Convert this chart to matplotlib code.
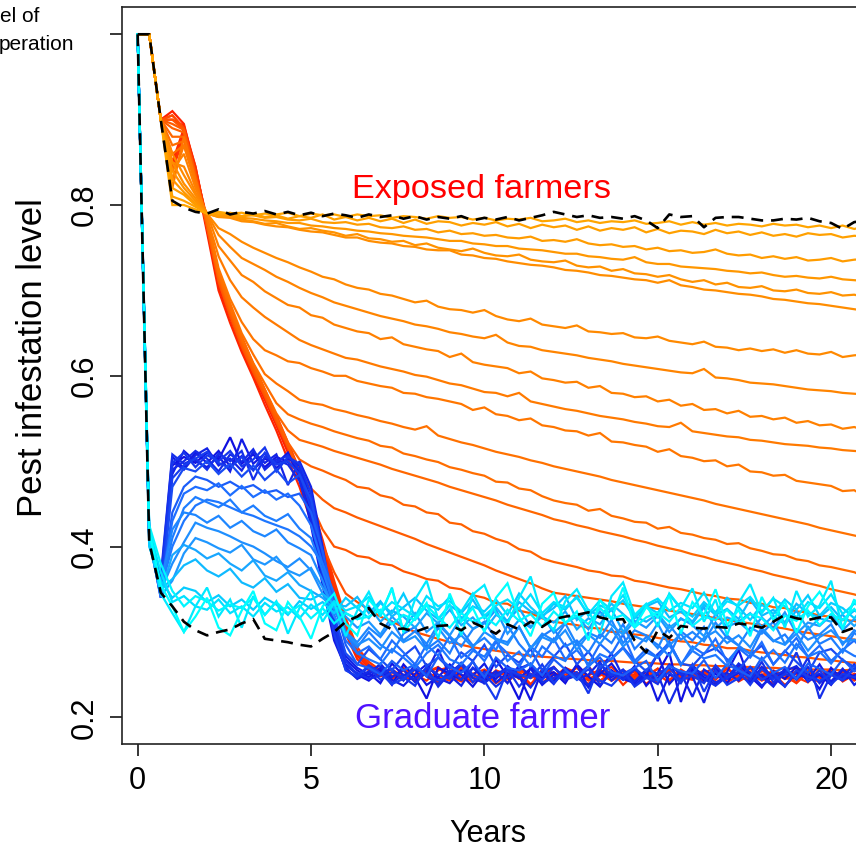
import numpy as np
import matplotlib
matplotlib.use("Agg")
import matplotlib.pyplot as plt
from matplotlib.colors import LinearSegmentedColormap

plt.rcParams['font.family'] = ['Liberation Sans', 'DejaVu Sans']

# one sample every 4 months
years = np.arange(72) / 3

# pest infestation level x 1000, one row per simulation
exposed_red = [
    [1000,1000,900, 910,895,840, 772,705,668, 632,602,572, 542,510,478, 440,395,345, 305,272,258, 250,246,255, 243,252,258, 247,250,241, 254,248,256, 245,251,247, 259,244,252, 249,256,243, 250,247,253, 242,255,249, 246,252,244, 257,248,251, 243,250,246, 254,249,241, 252,247,255, 250],
    [1000,1000,900, 905,890,835, 768,700,662, 628,598,566, 536,502,470, 430,385,338, 298,268,255, 248,253,244, 257,249,240, 252,258,246, 241,255,250, 247,238,256, 252,245,249, 260,243,251, 246,254,239, 250,257,247, 244,252,258, 241,249,253, 246,240,255, 251,245,248, 257,242,250, 246],
    [1000,1000,900, 900,893,845, 778,712,672, 636,606,575, 545,514,482, 445,402,352, 310,276,260, 252,244,258, 249,255,242, 250,261,246, 253,240,249, 257,246,251, 243,255,248, 239,252,259, 247,244,254, 250,241,256, 248,253,245, 259,242,250, 246,255,249, 240,253,247, 256,244,251, 248],
    [1000,1000,900, 850,890,845, 780,715,675, 640,608,578, 548,516,484, 446,400,350, 308,275,259, 251,256,247, 244,253,259, 248,242,251, 256,249,245, 253,239,250, 246,258,252, 243,249,255, 238,251,246, 257,244,253, 249,241,256, 250,247,243, 254,251,238, 248,255,246, 242,253,249, 252],
    [1000,1000,900, 845,885,842, 782,718,678, 643,611,581, 551,519,486, 449,405,356, 312,278,262, 253,247,257, 250,243,255, 259,246,251, 242,254,248, 256,250,240, 252,247,259, 245,251,243, 255,248,253, 240,257,246, 251,244,254, 248,259,242, 250,253,245, 247,241,256, 249,254,243, 251],
    [1000,1000,900, 840,880,840, 785,722,682, 646,614,584, 554,522,490, 452,408,360, 316,282,265, 255,249,244, 256,251,247, 243,258,250, 246,252,241, 255,248,253, 244,250,258, 247,242,254, 251,246,249, 257,243,252, 248,255,240, 250,246,257, 244,252,249, 241,255,247, 253,248,245, 250],
]

# ordered from the flattest (top) to the steepest
exposed_fan = [
    [1000,1000,900, 800,800,795, 790,792,790, 791,788,790, 789,791,787, 790,788,789, 786,789,787, 788,785,787, 786,784,787, 785,786,783, 785,782,784, 783,785,781, 782,784,780, 782,779,781, 780,782,778, 779,781,777, 780,777,779, 776,778,777, 775,778,776, 777,774,776, 773,776,772, 775],
    [1000,1000,900, 810,805,798, 790,789,791, 787,790,786, 788,784,787, 785,789,783, 786,782,785, 781,784,779, 783,778,781, 780,776,779, 777,780,775, 778,773,777, 774,776,771, 775,770,773, 771,774,768, 772,767,770, 769,766,771, 767,769,765, 768,764,766, 763,767,765, 766,762,764, 763],
    [1000,1000,900, 820,812,800, 790,789,790, 787,788,785, 786,783,782, 784,780,779, 780,777,778, 774,773,775, 771,772,768, 770,766,767, 764,765,762, 761,763,758, 759,757,760, 755,753,754, 751,752,748, 750,746,747, 744,745,748, 743,741,742, 738,740,737, 739,735,736, 738,734,736, 737],
    [1000,1000,900, 830,815,802, 790,787,788, 785,784,782, 781,779,779, 776,775,773, 772,770,769, 767,766,764, 763,762,760, 758,758,755, 754,752,752, 749,748,747, 745,743,743, 740,739,737, 736,739,733, 731,731,728, 727,726,725, 723,722,720, 721,718,716, 717,715,714, 716,713,712, 711],
    [1000,1000,900, 840,820,805, 790,786,787, 783,781,778, 779,775,772, 773,770,768, 764,766,761, 760,757,758, 753,755,750, 748,746,749, 744,741,740, 742,736,734, 733,735,729, 727,728,723, 725,720,719, 716,718,713, 710,712,707, 709,704,703, 705,700,699, 701,697,696, 698,694,695, 692],
    [1000,1000,900, 850,825,808, 790,786,785, 781,780,777, 775,774,771, 769,768,765, 762,762,758, 756,755,752, 751,748,747, 747,742,741, 738,737,734, 732,730,729, 727,724,723, 721,718,717, 715,713,712, 709,712,706, 704,701,700, 698,696,695, 693,690,689, 687,685,684, 682,680,678, 676],
    [1000,1000,900, 860,835,812, 790,773,766, 757,750,744, 738,733,727, 722,716,713, 707,703,701, 696,694,690, 686,688,681, 678,677,674, 677,670,666, 664,667,660, 658,656,659, 652,651,649, 650,645,644, 646,641,639, 637,640,634, 633,630,632, 629,631,627, 630,626,625, 628,622,624, 625],
    [1000,1000,900, 850,845,815, 790,765,751, 738,731,724, 716,710,703, 697,692,686, 682,678,674, 670,667,664, 660,658,655, 651,649,646, 644,648,639, 635,634,630, 628,626,624, 621,619,617, 614,612,610, 608,606,604, 603,608,598, 597,595,592, 591,590,588, 586,584,583, 582,580,579, 578],
    [1000,1000,900, 840,860,820, 790,752,735, 718,710,699, 691,683,680, 671,668,660, 656,652,650, 643,645,637, 634,631,629, 622,626,616, 613,611,609, 603,605,597, 595,592,593, 586,588,580, 579,575,576, 570,572,565, 567,560,561, 556,559,552, 553,549,551, 545,547,542, 543,538,540, 536],
    [1000,1000,900, 830,870,825, 785,740,712, 692,680,669, 660,651,642, 636,631,626, 621,619,615, 611,608,605, 601,599,595, 591,589,585, 581,580,576, 580,570,567, 564,561,559, 556,553,551, 549,546,544, 541,540,545, 535,533,531, 529,528,525, 524,522,520, 519,518,516, 515,513,512, 511],
    [1000,1000,900, 820,880,830, 785,726,690, 663,643,630, 624,617,615, 609,605,600, 600,594,591, 588,586,580, 579,575,573, 570,567,560, 563,555,553, 548,550,542, 540,536,535, 530,533,523, 522,519,517, 511,514,506, 504,500,501, 494,496,488, 487,483,484, 477,475,473, 471,465,466, 458],
    [1000,1000,900, 860,870,828, 783,722,685, 650,625,602, 591,582,572, 568,566,561, 558,554,551, 547,544,540, 537,541,530, 526,522,519, 515,511,508, 505,501,498, 494,491,488, 485,482,478, 475,472,469, 466,463,460, 457,454,450, 447,444,441, 438,435,432, 429,426,422, 419,416,413, 410],
    [1000,1000,900, 870,875,826, 780,720,680, 645,615,591, 568,555,549, 544,540,535, 531,527,524, 518,516,509, 506,502,499, 493,490,486, 483,476,475, 468,466,459, 454,451,449, 442,444,436, 433,429,428, 421,423,416, 414,410,408, 403,404,398, 395,391,390, 385,383,378, 376,373,370, 364],
    [1000,1000,900, 880,880,830, 780,718,678, 642,612,584, 556,536,525, 521,517,512, 508,504,500, 496,491,487, 483,479,475, 470,466,462, 458,454,449, 445,441,437, 432,429,425, 422,418,415, 412,408,405, 401,398,395, 391,388,384, 381,378,374, 371,367,364, 361,357,354, 350,347,344, 340],
    [1000,1000,900, 890,885,832, 778,716,676, 640,610,582, 552,522,502, 494,489,483, 478,470,468, 460,457,449, 447,440,438, 428,426,418, 415,409,405, 397,394,386, 382,379,376, 372,370,366, 365,360,358, 355,352,350, 347,344,342, 339,338,334, 333,329,328, 324,323,319, 318,314,313, 308],
    [1000,1000,900, 895,888,835, 776,714,674, 638,608,580, 550,519,489, 468,455,445, 440,434,429, 424,419,414, 409,403,398, 393,388,383, 378,372,367, 362,357,351, 346,344,342, 340,338,336, 333,331,329, 327,325,323, 321,319,316, 314,312,310, 308,306,304, 301,299,297, 295,293,291, 290],
    [1000,1000,900, 900,888,835, 775,712,672, 636,606,578, 548,518,488, 450,420,400, 396,389,387, 380,378,371, 367,362,360, 352,350,343, 340,334,333, 325,322,316, 312,310,308, 305,304,300, 300,297,296, 293,291,289, 288,285,284, 281,281,278, 276,275,273, 271,270,268, 267,265,264, 262],
    [1000,1000,900, 905,890,838, 774,710,670, 634,604,576, 546,516,486, 448,402,370, 345,335,326, 318,312,306, 300,296,292, 288,285,282, 280,278,276, 274,272,271, 270,269,268, 267,266,266, 265,264,264, 263,262,262, 261,261,260, 260,259,259, 258,258,257, 257,256,256, 256,255,256, 255],
]

graduate_dark = [
    [1000,410,345, 495,505,498, 510,502,528, 497,508,493, 505,499,488, 440,372,300, 262,250,243, 255,238,262, 247,222,258, 251,244,266, 239,268,248, 221,259,246, 253,240,262, 248,236,255, 244,260,237, 252,276,218, 257,243,251, 240,262,248, 235,254,245, 259,242,250, 238,256,247, 251],
    [1000,415,360, 505,492,510, 498,512,494, 506,490,503, 497,510,482, 425,355,290, 258,245,252, 240,263,249, 256,238,247, 262,250,236, 254,245,260, 249,220,256, 242,258,247, 236,251,263, 245,240,255, 219,250,244, 261,247,238, 253,279,242, 250,237,257, 246,252,233, 258,244,249, 255],
    [1000,405,350, 485,512,500, 493,506,488, 526,497,509, 492,503,495, 455,385,310, 268,255,247, 258,244,237, 251,262,246, 240,255,249, 263,241,252, 246,257,238, 250,244,261, 235,253,247, 256,242,250, 274,239,254, 248,217,257, 245,252,240, 259,247,236, 253,244,262, 241,250,246, 237],
    [1000,420,355, 500,490,507, 515,495,503, 489,511,498, 508,472,500, 470,400,318, 272,258,250, 263,247,256, 241,253,280, 249,237,258, 245,254,240, 261,248,252, 239,257,244, 250,265,243, 255,238,249, 246,261,252, 224,256,247, 252,243,259, 248,236,254, 260,245,251, 242,257,238, 249],
    [1000,410,340, 490,500,512, 503,488,508, 499,514,490, 502,496,477, 432,360,295, 256,246,254, 261,240,250, 245,258,236, 252,263,246, 240,251,257, 248,235,253, 259,244,249, 238,255,275, 247,242,256, 251,216,245, 258,250,241, 246,263,252, 237,248,255, 244,259,240, 253,247,262, 241],
    [1000,412,365, 508,497,503, 490,509,500, 512,478,505, 499,507,490, 450,378,305, 260,252,245, 249,257,243, 262,248,239, 255,244,258, 250,236,247, 257,263,241, 246,253,249, 260,238,252, 244,256,247, 239,262,250, 253,245,237, 248,258,244, 265,241,251, 246,270,222, 250,243,257, 248],
    [1000,418,350, 498,510,493, 507,500,512, 494,502,516, 488,505,497, 462,392,312, 266,250,258, 244,253,247, 237,259,250, 245,262,241, 253,248,257, 236,251,244, 258,247,253, 228,263,249, 255,236,246, 252,258,243, 249,240,261, 246,254,238, 257,245,250, 276,242,255, 239,251,247, 254],
    [1000,408,358, 480,495,503, 511,498,492, 505,489,510, 496,500,485, 445,366,298, 255,248,261, 252,239,245, 257,251,243, 248,264,250, 243,221,256, 250,246,262, 240,254,248, 256,243,237, 251,258,246, 243,253,240, 262,230,255, 238,246,259, 244,252,236, 255,248,243, 250,244,257, 260],
]

graduate_mid = [
    [1000,409,340, 470,492,488, 500,485,497, 482,495,478, 490,474,484, 455,392,320, 275,262,280, 268,255,272, 283,260,270, 257,276,266, 285,259,273, 264,280,255, 271,286,262, 277,258,269, 282,266,254, 274,287,263, 260,275,281, 268,256,273, 284,262,278, 265,252,276, 280,267,259, 272],
    [1000,412,345, 440,470,482, 478,470,476, 468,472,463, 466,458,462, 440,395,335, 285,262,258, 250,266,255, 262,248,271, 259,252,265, 247,270,258, 255,263,249, 268,256,244, 261,270,253, 249,258,266, 243,260,254, 251,267,246, 262,255,248, 270,252,259, 245,263,257, 250,268,254, 261],
    [1000,410,352, 430,462,470, 466,474,460, 471,458,466, 455,462,448, 425,380,330, 290,275,283, 268,290,276, 262,285,272, 295,270,281, 266,288,275, 259,283,271, 292,268,279, 262,286,274, 297,266,280, 270,289,261, 283,274,292, 265,281,270, 288,262,277, 293,271,284, 266,279,290, 275],
    [1000,415,350, 400,430,448, 455,452,446, 440,436,430, 425,420,412, 400,380,345, 300,275,268, 262,280,270, 258,275,285, 268,262,278, 271,290,266, 277,260,283, 272,266,288, 259,274,268, 281,263,276, 270,285,262, 278,269,273, 260,282,275, 267,279,264, 286,271,277, 263,280,272, 268],
    [1000,414,348, 410,445,458, 452,446,455, 440,448,436, 430,438,421, 410,372,330, 296,282,300, 285,276,298, 306,280,290, 275,302,284, 293,279,308, 286,271,295, 304,283,290, 276,298,287, 309,280,294, 285,272,301, 290,306,279, 296,284,274, 302,289,297, 280,306,286, 293,276,299, 288],
    [1000,412,356, 420,440,437, 428,436,422, 430,418,412, 420,405,398, 390,360,325, 300,288,305, 294,312,290, 301,286,309, 295,283,303, 312,292,288, 306,281,298, 290,310,285, 299,293,314, 287,302,296, 281,308,291, 300,289,311, 293,284,305, 298,312,286, 303,291,297, 309,285,302, 294],
    [1000,410,348, 380,405,428, 422,418,412, 405,400,392, 383,376,386, 372,345,318, 298,285,292, 280,300,288, 295,279,305, 287,296,282, 300,291,285, 306,281,294, 288,302,279, 297,286,304, 283,295,289, 310,284,298, 279,293,301, 287,296,282, 305,290,285, 298,278,294, 302,288,291, 284],
    [1000,408,342, 360,392,410, 405,398,393, 402,385,379, 388,372,366, 375,352,330, 318,305,312, 297,318,305, 322,300,311, 296,317,304, 310,326,298, 314,305,320, 299,311,318, 303,324,308, 297,313,305, 319,300,316, 308,295,321, 306,312,300, 317,304,323, 298,311,307, 320,302,315, 309],
]

graduate_light = [
    [1000,405,345, 390,402,396, 386,392,380, 372,384,366, 360,370,355, 348,340,328, 322,315,330, 312,325,318, 305,322,310, 326,308,317, 302,320,313, 328,306,318, 311,324,303, 316,309,327, 300,318,312, 321,305,315, 310,329,304, 317,312,322, 306,319,309, 325,303,316, 312,320,307, 318],
    [1000,402,350, 362,378,385, 372,365,374, 358,352,363, 347,356,340, 338,345,332, 330,341,322, 336,318,329, 340,325,315, 331,322,338, 316,329,312, 335,324,319, 328,342,314, 326,318,333, 321,309,330, 336,317,324, 312,332,320, 327,315,338, 319,326,311, 333,322,317, 329,314,325, 320],
    [1000,400,360, 340,352,348, 335,343,330, 338,326,340, 332,320,336, 327,335,322, 340,328,316, 334,322,345, 318,332,326, 341,315,330, 324,338,320, 345,329,317, 333,326,342, 319,331,325, 337,316,330, 322,344,327, 318,335,323, 340,329,314, 332,321,338, 326,343,319, 334,328,316, 331],
]

graduate_cyan = [
    [1000,420,370, 335,342,330, 326,338,322, 330,318,334, 324,329,316, 332,320,336, 325,330,341, 322,335,327, 318,342,330, 336,324,345, 319,331,338, 327,344,322, 335,329,340, 321,337,326, 343,318,332, 339,325,334, 328,346,320, 336,331,341, 324,339,330, 317,335,328, 344,321,333, 329],
    [1000,415,345, 322,300,330, 352,318,338, 305,342,320, 336,298,328, 348,312,334, 295,325,347, 318,352,300, 338,360,315, 332,296,344, 355,322,309, 340,365,318, 302,336,350, 325,298,342, 358,320,333, 306,345,328, 351,312,338, 296,334,356, 322,340,305, 348,318,331, 360,303,337, 325],
    [1000,425,380, 348,330,342, 336,325,332, 328,340,320, 335,322,331, 316,328,310, 322,315,318, 326,309,320, 314,331,317, 305,322,312, 318,308,326, 313,321,306, 324,311,319, 309,328,315, 320,305,317, 323,312,329, 307,318,314, 326,310,321, 316,302,319, 313,325,308, 321,314,327, 311],
    [1000,418,355, 330,300,318, 340,305,296, 325,348,310, 302,335,318, 292,330,345, 310,296,338, 322,350,300, 316,334,292, 345,312,328, 300,340,357, 318,295,333, 346,310,324, 290,338,315, 352,306,329, 317,343,298, 335,320,350, 308,326,295, 341,314,336, 299,330,347, 325,305,338, 312],
]

baseline_exposed = [1000,1000,900, 805,797,792, 790,795,789, 792,790,793, 789,792,788, 791,787,790, 788,785,789, 786,788,784, 787,783,786, 784,787,782, 785,783,786, 782,785,788, 792,789,786, 788,785,786, 784,787,782, 773,789,786, 787,774,785, 786,786,784, 782,782,784, 783,785,781, 779,772,780, 782]
baseline_graduate = [1000,405,346, 330,312,302, 296,300,303, 310,315,292, 290,288,285, 283,292,300, 312,318,328, 310,303,304, 300,305,307, 308,302,311, 305,298,309, 303,312,306, 315,318,320, 323,317,314, 315,290,276, 302,293,307, 305,304,306, 305,310,308, 305,312,320, 316,314,317, 317,300,305, 308]

fig = plt.figure(figsize=(8.56, 8.49), dpi=100)
ax = fig.add_axes([0.1422, 0.1233, 0.9085, 0.8681])

warm = LinearSegmentedColormap.from_list('warm', ['#FF2000', '#FF6A00', '#FFA500'])
cool = LinearSegmentedColormap.from_list('cool', ['#1010E0', '#1E6EFF', '#1E9BFF', '#00D8FF', '#00FFFF'])


def draw(rows, cmap, lo, hi, reverse=False):
    n = len(rows)
    order = range(n - 1, -1, -1) if reverse else range(n)
    for i in order:
        v = np.array(rows[i][:len(years)]) / 1000
        c = cmap(lo + (hi - lo) * i / max(n - 1, 1))
        ax.plot(years[:len(v)], v, color=c, lw=1.6, solid_joinstyle='miter')


draw(exposed_red, warm, 0.0, 0.15)
draw(exposed_fan, warm, 1.0, 0.32, reverse=True)
draw(graduate_dark, cool, 0.0, 0.12)
draw(graduate_mid, cool, 0.16, 0.48)
draw(graduate_light, cool, 0.55, 0.7)
draw(graduate_cyan, cool, 0.8, 1.0)

for base in (baseline_exposed, baseline_graduate):
    v = np.array(base) / 1000
    ax.plot(years[:len(v)], v, color='black', lw=1.9, dashes=(4.5, 3))

ax.text(9.91, 0.808, 'Exposed farmers', color='#FF0000', fontsize=24.7,
        ha='center', va='baseline')
ax.text(9.95, 0.188, 'Graduate farmer', color='#5010FF', fontsize=25,
        ha='center', va='baseline')

ax.set_xlim(-0.46, 21.97)
ax.set_ylim(0.1684, 1.0316)
for s in ax.spines.values():
    s.set_linewidth(1.2)
    s.set_color('#222222')
ax.set_xticks([0, 5, 10, 15, 20])
ax.set_yticks([0.2, 0.4, 0.6, 0.8, 1.0])
ax.set_yticklabels(['0.2', '0.4', '0.6', '0.8', ''])
ax.tick_params(direction='out', length=8.6, width=1.1, labelsize=22, colors='black')
ax.tick_params(axis='x', pad=7)
ax.tick_params(axis='y', pad=7.5, labelrotation=90)
for lab in ax.get_yticklabels():
    lab.set_va('center')

fig.text(488 / 856, 1 - 842 / 849, 'Years', fontsize=22, ha='center', va='baseline')
fig.text(42 / 856, 1 - 358 / 849, 'Pest infestation level', fontsize=25,
         rotation=90, rotation_mode='anchor', ha='center', va='baseline')

# colour legend sits left of the crop, only the tail of its title shows
fig.text(0.5 / 856, 1 - 22 / 849, 'el of', fontsize=15, ha='left', va='baseline')
fig.text(-1 / 856, 1 - 50 / 849, 'peration', fontsize=15, ha='left', va='baseline')

fig.savefig('out.png', dpi=100)
